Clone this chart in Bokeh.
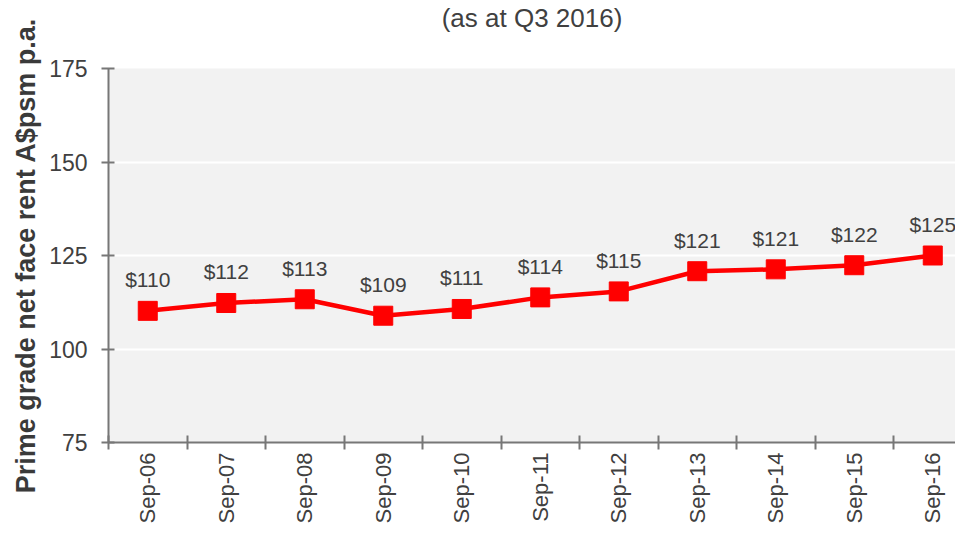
import math
from bokeh.plotting import figure
from bokeh.models import FixedTicker, ColumnDataSource, Title
from bokeh.core.properties import value
from bokeh.embed import file_html
from bokeh.resources import INLINE

# ---- data ----
categories = ["Sep-06", "Sep-07", "Sep-08", "Sep-09", "Sep-10", "Sep-11",
              "Sep-12", "Sep-13", "Sep-14", "Sep-15", "Sep-16"]
rents = [110.2, 112.3, 113.3, 108.9, 110.7, 113.8, 115.4, 120.8, 121.3, 122.4, 125.0]
labels = ["$110", "$112", "$113", "$109", "$111", "$114", "$115", "$121", "$121", "$122", "$125"]
y_ticks = [75, 100, 125, 150, 175]
title_text = "(as at Q3 2016)"
y_title = "Prime grade net face rent A$psm p.a."

FONT = "Liberation Sans"
TXT = "#404040"
AX = "#777777"

idx = list(range(len(categories)))
src = ColumnDataSource(dict(x=idx, y=rents, lab=labels))

W, H = 955, 526
left, top = 108, 68
frame_bottom = 443
bottom = H - frame_bottom
frame_w = W - left
spacing = 78.5
x_start = -0.5
x_end = x_start + frame_w / spacing

p = figure(width=W, height=H, output_backend="svg", toolbar_location=None,
           x_range=(x_start, x_end), y_range=(75, 175),
           min_border_left=left, min_border_top=top, min_border_bottom=bottom,
           min_border_right=0)

p.background_fill_color = "#f2f2f2"
p.border_fill_color = "white"
p.outline_line_color = None

# spacer between frame and title, then the title on top of it
p.add_layout(Title(text=" ", text_font_size="1px", standoff=33), "above")
p.add_layout(Title(text=title_text, align="center", text_font=FONT, text_font_size="26px",
                   text_font_style="normal", text_color=TXT, standoff=0), "above")

# grid
p.xgrid.grid_line_color = None
p.ygrid.ticker = FixedTicker(ticks=y_ticks)
p.ygrid.grid_line_color = "white"
p.ygrid.grid_line_width = 2

# y axis
ya = p.yaxis[0]
ya.ticker = FixedTicker(ticks=y_ticks)
ya.axis_line_color = AX
ya.axis_line_width = 2
ya.major_tick_line_color = AX
ya.major_tick_line_width = 2
ya.major_tick_in = 6
ya.major_tick_out = 7
ya.minor_tick_line_color = None
ya.major_label_standoff = 14
ya.major_label_text_font = FONT
ya.major_label_text_font_size = "23px"
ya.major_label_text_color = TXT
ya.axis_label = y_title
ya.axis_label_text_font = FONT
ya.axis_label_text_font_size = "27px"
ya.axis_label_text_font_style = "bold"
ya.axis_label_text_color = "#3a3a3a"
ya.axis_label_standoff = 5

# x axis
xa = p.xaxis[0]
xa.ticker = FixedTicker(ticks=idx, minor_ticks=[i - 0.5 for i in range(len(categories) + 1)])
xa.major_label_overrides = {i: c for i, c in enumerate(categories)}
xa.major_label_orientation = math.pi / 2
xa.major_tick_line_color = None
xa.major_tick_in = 0
xa.major_tick_out = 0
xa.minor_tick_line_color = AX
xa.minor_tick_line_width = 2
xa.minor_tick_in = 7
xa.minor_tick_out = 7
xa.axis_line_color = AX
xa.axis_line_width = 2
xa.major_label_standoff = 3
xa.major_label_text_font = FONT
xa.major_label_text_font_size = "22px"
xa.major_label_text_color = TXT

# series
p.line("x", "y", source=src, line_color="#ff0000", line_width=4.5)
p.scatter("x", "y", source=src, marker="square", size=19,
          fill_color="#ff0000", line_color="#ff0000")
p.text("x", "y", text="lab", source=src, y_offset=-31,
       text_align="center", text_baseline="middle",
       text_font=value(FONT), text_font_size="21px", text_color=TXT)

open("out.html", "w").write(file_html(p, INLINE))
